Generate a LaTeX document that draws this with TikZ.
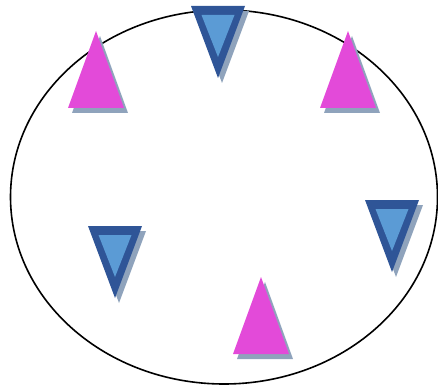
\documentclass[tikz,border=0pt]{standalone}
\usepackage{tikz}
\definecolor{pinkfill}{RGB}{227,74,217}
\definecolor{bluedark}{RGB}{47,85,151}
\definecolor{bluelight}{RGB}{91,155,213}
\definecolor{shadowgrey}{RGB}{143,163,188}
\tikzset{
  rim/.style={draw=black,line width=1.6pt},
  shadowtri/.style={fill=shadowgrey},
  pinktri/.style={fill=pinkfill},
  blueouter/.style={fill=bluedark},
  blueinner/.style={fill=bluelight}
}
\begin{document}
\begin{tikzpicture}[x=1pt,y=-1pt,inner sep=0pt,outer sep=0pt]
  \useasboundingbox (0,0) rectangle (438,387);
  % outer ring
  \draw[rim] (224,197) ellipse [x radius=213.5,y radius=187];
  % upward triangles, apex given
  \foreach \ax/\ay in {96/31, 348/31, 261/277} {
    \fill[shadowtri] (\ax+4,\ay+5) -- (\ax+32,\ay+82) -- (\ax-24,\ay+82) -- cycle;
    \fill[pinktri] (\ax,\ay) -- (\ax+28,\ay+77) -- (\ax-28,\ay+77) -- cycle;
  }
  % downward triangles, tip given
  \foreach \tx/\ty in {218/78, 392/272, 115/298} {
    \fill[shadowtri] (\tx+4,\ty+5) -- (\tx-23,\ty-67) -- (\tx+31,\ty-67) -- cycle;
    \fill[blueouter] (\tx,\ty) -- (\tx-27,\ty-72) -- (\tx+27,\ty-72) -- cycle;
    \fill[blueinner] (\tx,\ty-21) -- (\tx-16.5,\ty-63) -- (\tx+16.5,\ty-63) -- cycle;
  }
\end{tikzpicture}
\end{document}
